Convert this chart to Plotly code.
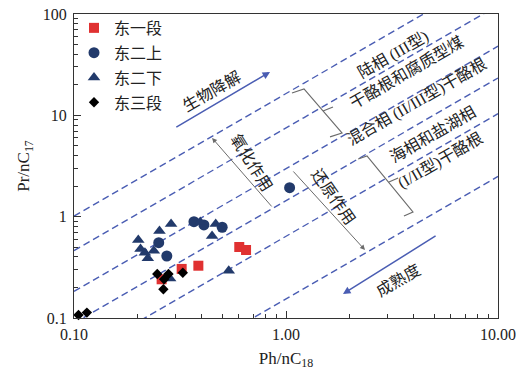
import numpy as np
import plotly.graph_objects as go

# ---- sample data: Ph/nC18 (x) and Pr/nC17 (y) ----
d1_x = [0.259, 0.322, 0.386, 0.602, 0.648]
d1_y = [0.241, 0.305, 0.328, 0.502, 0.469]

d2u_x = [0.368, 0.410, 0.500, 0.251, 0.274, 1.04]
d2u_y = [0.893, 0.828, 0.786, 0.554, 0.409, 1.93]

d2l_x = [0.201, 0.206, 0.216, 0.223, 0.238, 0.253, 0.287, 0.394, 0.466, 0.448, 0.537, 0.284]
d2l_y = [0.589, 0.480, 0.441, 0.388, 0.462, 0.722, 0.847, 0.887, 0.847, 0.645, 0.293, 0.246]

d3_x = [0.105, 0.115, 0.247, 0.266, 0.279, 0.264, 0.326]
d3_y = [0.107, 0.113, 0.272, 0.241, 0.272, 0.192, 0.280]

# ---- reference lines: Pr/nC17 = k * (Ph/nC18)^slope ----
REF_SLOPE = 1.21
REF_K = [16.4, 7.5, 2.97, 1.44, 0.64, 0.154]

x_ticks = [0.1, 1, 10]
x_ticktext = ["0.10", "1.00", "10.00"]
y_ticks = [0.1, 1, 10, 100]
y_ticktext = ["0.1", "1", "10", "100"]

SERIF = "Liberation Serif, Times New Roman, Noto Sans CJK SC, serif"
BLUE_LINE = "#4a5db3"
NAVY = "#223a6b"
RED = "#e03131"
GRAY = "#6b6b6b"

fig = go.Figure()

xs = np.logspace(-1, 1, 200)
for k in REF_K:
    fig.add_trace(go.Scatter(
        x=xs, y=k * xs ** REF_SLOPE, mode="lines",
        line=dict(color=BLUE_LINE, width=1.4, dash="7px,4px"),
        hoverinfo="skip", showlegend=False))

# brackets grouping facies bands
brackets = [
    dict(x=[1.067, 1.216, 1.837, 1.613], y=[16.6, 18.2, 6.70, 6.12],
         tx=[1.495, 1.666], ty=[11.05, 12.1]),
    dict(x=[2.19, 2.41, 3.97, 3.60], y=[3.71, 3.97, 1.113, 1.016],
         tx=[3.06, 3.38], ty=[2.20, 2.41]),
]
for b in brackets:
    fig.add_trace(go.Scatter(x=b["x"], y=b["y"], mode="lines",
                             line=dict(color=GRAY, width=1.2),
                             hoverinfo="skip", showlegend=False))
    fig.add_trace(go.Scatter(x=b["tx"], y=b["ty"], mode="lines",
                             line=dict(color=GRAY, width=1.2),
                             hoverinfo="skip", showlegend=False))

series = [
    ("东一段", d1_x, d1_y, "square", RED, 10),
    ("东二上", d2u_x, d2u_y, "circle", NAVY, 11),
    ("东二下", d2l_x, d2l_y, "triangle-up", NAVY, 11),
    ("东三段", d3_x, d3_y, "diamond", "#000000", 8),
]
for name, x, y, sym, col, sz in series:
    fig.add_trace(go.Scatter(
        x=x, y=y, mode="markers", name=name, legendgroup=name,
        cliponaxis=False,
        marker=dict(symbol=sym, color=col, size=sz, line=dict(width=0))))

lg = np.log10

def arrow(x0, y0, x1, y1, color, width, head, size):
    fig.add_annotation(x=lg(x1), y=lg(y1), ax=lg(x0), ay=lg(y0),
                       xref="x", yref="y", axref="x", ayref="y",
                       text="", showarrow=True, arrowhead=head,
                       arrowsize=size, arrowwidth=width, arrowcolor=color)

# process arrows
arrow(0.299, 7.51, 0.841, 26.8, BLUE_LINE, 1.5, 2, 1.0)     # biodegradation
arrow(5.16, 0.659, 1.857, 0.1726, BLUE_LINE, 1.5, 2, 1.0)   # maturity
arrow(0.868, 1.219, 0.448, 5.98, GRAY, 1.0, 2, 1.0)         # oxidation
arrow(1.067, 2.89, 2.358, 0.469, GRAY, 1.0, 2, 1.0)         # reduction

labels = [
    ("生物降解", 0.448, 17.0, -30),
    ("成熟度", 3.38, 0.237, -30),
    ("氧化作用", 0.684, 3.39, 58),
    ("还原作用", 1.666, 1.565, 55),
    ("陆相 (III型)", 3.2, 39.5, -30),
    ("干酪根和腐质型煤", 3.72, 26.2, -30),
    ("混合相 (II/III型)干酪根", 4.15, 13.6, -30),
    ("海相和盐湖相", 4.94, 6.41, -30),
    ("(I/II型)干酪根", 5.33, 3.55, -30),
]
for txt, x, y, ang in labels:
    fig.add_annotation(x=lg(x), y=lg(y), xref="x", yref="y", text=txt,
                       showarrow=False, textangle=ang,
                       font=dict(family=SERIF, size=16, color="#222222"))

def minor_vals(lo, hi):
    return [m * 10.0 ** e for e in range(lo, hi) for m in range(2, 10)]

axis_common = dict(
    type="log", showgrid=False, zeroline=False, showline=True, mirror=True,
    linecolor="#333333", linewidth=1.3, ticks="inside", ticklen=7,
    tickcolor="#333333", tickwidth=1.1, automargin=False,
    tickfont=dict(family=SERIF, size=16, color="#222222"),
)

fig.update_xaxes(
    **axis_common, range=[-1, 1], tickmode="array", tickvals=x_ticks,
    ticktext=x_ticktext, ticklabelstandoff=2,
    minor=dict(tickmode="array", tickvals=minor_vals(-1, 1), ticks="inside",
               ticklen=4, tickcolor="#333333", showgrid=False),
    title=dict(text="Ph/nC<sub>18</sub>", font=dict(family=SERIF, size=17, color="#222222"),
               standoff=9))
fig.update_yaxes(
    **axis_common, range=[-1, 2], tickmode="array", tickvals=y_ticks,
    ticktext=y_ticktext, ticklabelstandoff=3,
    minor=dict(tickmode="array", tickvals=minor_vals(-1, 2), ticks="inside",
               ticklen=4, tickcolor="#333333", showgrid=False),
    title=dict(text="Pr/nC<sub>17</sub>", font=dict(family=SERIF, size=17, color="#222222"),
               standoff=8))

fig.update_layout(
    width=516, height=372,
    margin=dict(l=74, r=18, t=14, b=54, autoexpand=False),
    paper_bgcolor="white", plot_bgcolor="white",
    legend=dict(x=0.0, y=1.01, xanchor="left", yanchor="top",
                bgcolor="rgba(0,0,0,0)", itemwidth=30, tracegroupgap=1,
                font=dict(family=SERIF, size=16, color="#222222")),
)

fig.write_html("out.html")
